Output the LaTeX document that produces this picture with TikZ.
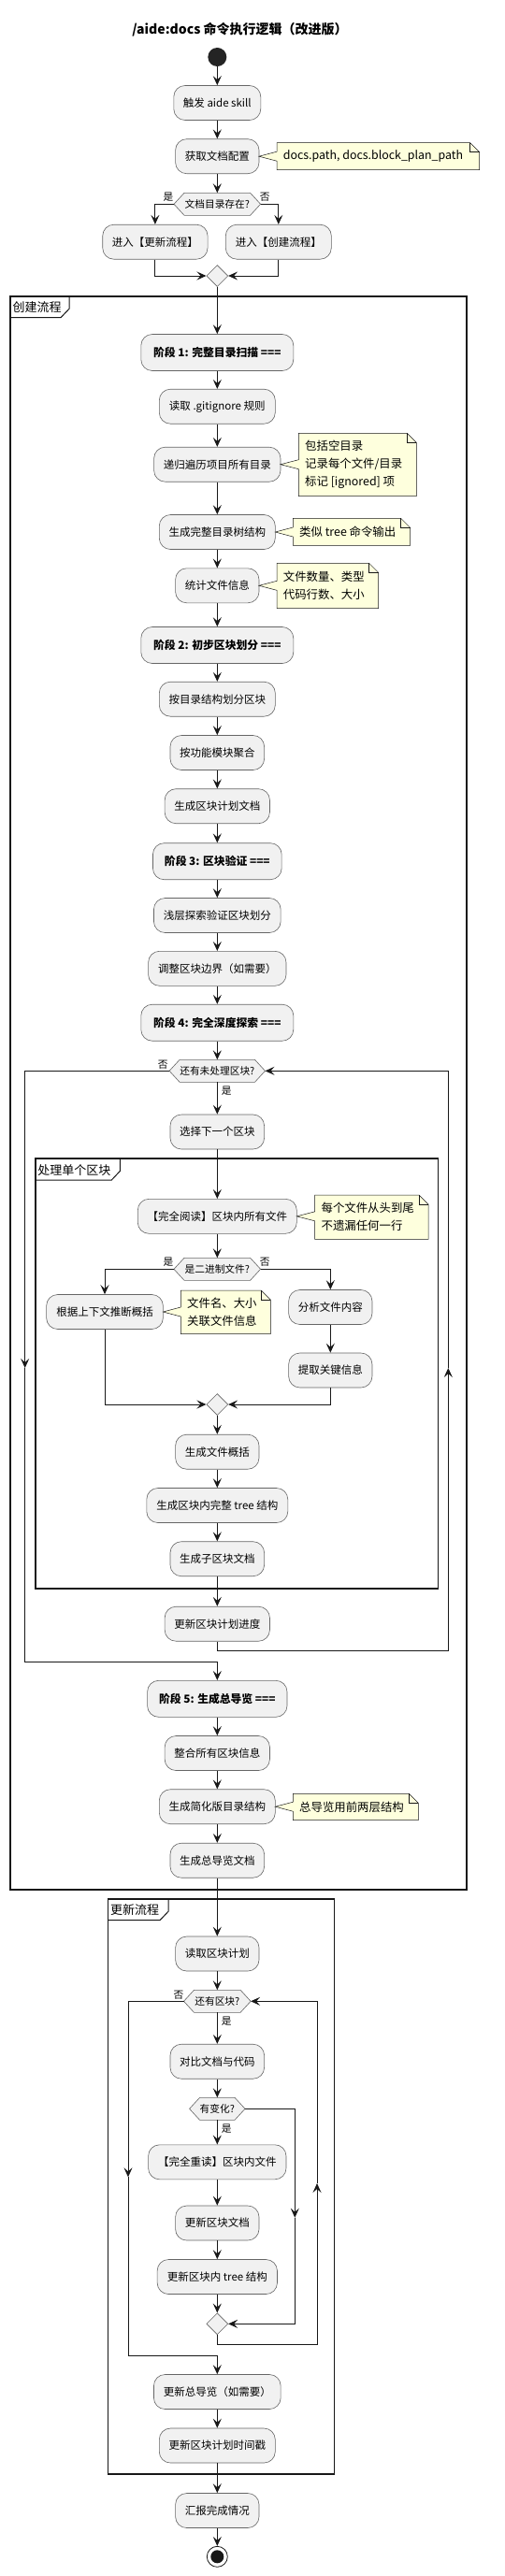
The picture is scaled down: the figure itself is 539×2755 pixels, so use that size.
\documentclass[tikz,border=0pt]{standalone}
\usepackage{fontspec}
\setmainfont{Noto Sans CJK SC}
\usetikzlibrary{arrows.meta,shapes.geometric,calc}
\definecolor{actfill}{HTML}{F1F1F1}
\definecolor{notefill}{HTML}{FEFFDD}
\definecolor{lc}{HTML}{181818}
\newcommand\colx{232.3}
\newcommand\hexd[5]{%
  \draw[hexs] (#2-#4,#3) -- (#2-#4+11,#3-12) -- (#2+#4-11,#3-12) -- (#2+#4,#3) -- (#2+#4-11,#3+12) -- (#2-#4+11,#3+12) -- cycle;
  \node[dtext] (#1) at (#2,#3) {#5};
  \coordinate (#1-w) at (#2-#4,#3);
  \coordinate (#1-e) at (#2+#4,#3);
  \coordinate (#1-n) at (#2,#3-12);
  \coordinate (#1-s) at (#2,#3+12);
}
\newcommand\mynote[8]{%
  \draw[notes] (#2,#3) -- (#4-10,#3) -- (#4,#3+10) -- (#4,#5) -- (#2,#5) -- (#2,#7+5) -- (#6,#7) -- (#2,#7-5) -- cycle;
  \draw[notes,fill=none] (#4-10,#3) -- (#4-10,#3+10) -- (#4,#3+10);
  \node[notetext] (#1) at (#2+6.7,{(#3+#5)/2}) {#8};
}
\newcommand\mygroup[7]{%
  \draw[grp] (#2,#3) rectangle (#4,#5);
  \draw[grptab] (#2,#3+23) -- (#6-9,#3+23) -- (#6,#3+13.5) -- (#6,#3);
  \node[grplabel] (#1) at (#2+2.5,#3+12.3) {#7};
}
\begin{document}
\begin{tikzpicture}[x=1pt,y=-1pt,
  act/.style={draw=black!60,line width=0.6pt,fill=actfill,rounded corners=12pt,minimum height=37pt,inner sep=0pt,font=\fontsize{11.5pt}{14pt}\selectfont},
  phase/.style={act,minimum height=39pt,font=\fontsize{11.8pt}{14pt}\selectfont\bfseries},
  arr/.style={draw=lc,line width=1pt,-{Stealth[length=10pt,width=9pt,inset=4pt]}},
  ln/.style={draw=lc,line width=1pt},
  hexs/.style={draw=black!60,line width=0.6pt,fill=actfill},
  dtext/.style={inner sep=0pt,font=\fontsize{10.7pt}{13pt}\selectfont},
  lbl/.style={inner sep=0pt,font=\fontsize{10.7pt}{13pt}\selectfont},
  merge/.style={diamond,draw=black!60,line width=0.6pt,fill=actfill,minimum width=23pt,minimum height=23pt,inner sep=0pt},
  notes/.style={draw=lc,line width=0.5pt,fill=notefill},
  notetext/.style={anchor=west,align=left,inner sep=0pt,font=\fontsize{12.4pt}{19pt}\selectfont},
  grp/.style={draw=lc,line width=1.6pt},
  grptab/.style={draw=lc,line width=1pt},
  grplabel/.style={anchor=west,inner sep=0pt,font=\fontsize{13pt}{15pt}\selectfont},
  startc/.style={circle,fill=lc!95,minimum size=20pt,inner sep=0pt},
  endc/.style={circle,draw=lc,line width=0.8pt,fill=white,minimum size=22pt,inner sep=0pt}
]
\useasboundingbox[fill=white] (0,0) rectangle (539,2755);

% groups
\mygroup{g1}{11}{316.7}{498.7}{2020.7}{74}{创建流程}
\mygroup{g2}{37.7}{1239}{468.3}{1699}{128.3}{处理单个区块}
\mygroup{g3}{115.3}{2030.7}{357.3}{2646}{180}{更新流程}

% title
\node[inner sep=0pt,font=\fontsize{14pt}{16pt}\selectfont\bfseries] (title) at (256.5,32) {/aide:docs 命令执行逻辑（改进版）};

% top part
\node[startc] (start) at (\colx,61) {};
\node[act,minimum width=93pt] (a1) at (\colx,110) {触发 aide skill};
\node[act,minimum width=89.4pt] (a2) at (\colx,167.2) {获取文档配置};
\mynote{n1}{296}{152.7}{512.7}{181.7}{276.9}{167.2}{docs.path, docs.block\_plan\_path}
\hexd{d1}{\colx}{218.3}{46.3}{文档目录存在?}
\node[lbl] (l1) at (180,210.7) {是};
\node[lbl] (l2) at (283.3,210.7) {否};
\node[act,minimum width=112.3pt] (a3) at (165.9,258.7) {进入【更新流程】};
\node[act,minimum width=113pt] (a4) at (297.8,258.7) {进入【创建流程】};
\node[merge] (m1) at (\colx,295) {};

% create flow
\node[phase,minimum width=163pt] (p1) at (\colx,377) {阶段 1: 完整目录扫描 ===};
\node[act,minimum width=124pt] (b1) at (\colx,434.7) {读取 .gitignore 规则};
\node[act,minimum width=135.3pt] (b2) at (\colx,496.7) {递归遍历项目所有目录};
\mynote{n2}{319.3}{463.3}{445.3}{530.7}{299.9}{496.7}{包括空目录\\记录每个文件/目录\\标记 [ignored] 项}
\node[act,minimum width=124pt] (b3) at (\colx,569) {生成完整目录树结构};
\mynote{n3}{313.3}{554.3}{438.7}{583.3}{294.3}{569}{类似 tree 命令输出}
\node[act,minimum width=89.4pt] (b4) at (\colx,626.3) {统计文件信息};
\mynote{n4}{296}{602.3}{404.7}{650.7}{276.9}{626.3}{文件数量、类型\\代码行数、大小}
\node[phase,minimum width=163pt] (p2) at (\colx,690) {阶段 2: 初步区块划分 ===};
\node[act,minimum width=124pt] (b5) at (\colx,747.7) {按目录结构划分区块};
\node[act,minimum width=100.6pt] (b6) at (\colx,805) {按功能模块聚合};
\node[act,minimum width=112.3pt] (b7) at (\colx,862.2) {生成区块计划文档};
\node[phase,minimum width=137.7pt] (p3) at (\colx,921.2) {阶段 3: 区块验证 ===};
\node[act,minimum width=135.7pt] (b8) at (\colx,979) {浅层探索验证区块划分};
\node[act,minimum width=147.4pt] (b9) at (\colx,1035.8) {调整区块边界（如需要）};
\node[phase,minimum width=163pt] (p4) at (\colx,1093.7) {阶段 4: 完全深度探索 ===};
\hexd{d2}{\colx}{1145.3}{51.2}{还有未处理区块?}
\node[lbl] (l3) at (174.3,1138.3) {否};
\node[lbl] (l4) at (242.3,1166.7) {是};
\node[act,minimum width=100.6pt] (b10) at (\colx,1210.5) {选择下一个区块};
\node[act,minimum width=170pt] (b11) at (\colx,1300.8) {【完全阅读】区块内所有文件};
\mynote{n5}{336.7}{1278}{458}{1325.3}{317.3}{1300.8}{每个文件从头到尾\\不遗漏任何一行}
\hexd{d3}{\colx}{1357.3}{46.3}{是二进制文件?}
\node[lbl] (l5) at (180,1349.3) {是};
\node[lbl] (l6) at (283.3,1349.3) {否};
\node[act,minimum width=124.7pt] (b12) at (112,1403) {根据上下文推断概括};
\mynote{n6}{193.3}{1380}{289.3}{1426.7}{174.3}{1403}{文件名、大小\\关联文件信息}
\node[act,minimum width=89.3pt] (b13) at (353.3,1398) {分析文件内容};
\node[act,minimum width=89.3pt] (b14) at (353.3,1465.5) {提取关键信息};
\node[merge] (m2) at (\colx,1502) {};
\node[act,minimum width=89.4pt] (b15) at (\colx,1552.7) {生成文件概括};
\node[act,minimum width=151pt] (b16) at (\colx,1610) {生成区块内完整 tree 结构};
\node[act,minimum width=100.6pt] (b17) at (\colx,1667.2) {生成子区块文档};
\node[act,minimum width=112.3pt] (b18) at (\colx,1736.7) {更新区块计划进度};
\node[phase,minimum width=149.4pt] (p5) at (\colx,1816.8) {阶段 5: 生成总导览 ===};
\node[act,minimum width=112.3pt] (b19) at (\colx,1875) {整合所有区块信息};
\node[act,minimum width=124pt] (b20) at (\colx,1932.2) {生成简化版目录结构};
\mynote{n7}{313.3}{1918.3}{447.3}{1946.7}{294.3}{1932.2}{总导览用前两层结构}
\node[act,minimum width=100.6pt] (b21) at (\colx,1989.7) {生成总导览文档};

% update flow
\node[act,minimum width=89.4pt] (c1) at (\colx,2089.5) {读取区块计划};
\hexd{d4}{\colx}{2140.3}{35.8}{还有区块?}
\node[lbl] (l7) at (191,2133.3) {否};
\node[lbl] (l8) at (242.3,2161.7) {是};
\node[act,minimum width=100.6pt] (c2) at (\colx,2204.7) {对比文档与代码};
\hexd{d5}{\colx}{2255.3}{29.7}{有变化?}
\node[lbl] (l9) at (242.3,2276.7) {是};
\node[act,minimum width=147.4pt] (c3) at (\colx,2312.3) {【完全重读】区块内文件};
\node[act,minimum width=89.4pt] (c4) at (\colx,2377.5) {更新区块文档};
\node[act,minimum width=128.3pt] (c5) at (\colx,2435) {更新区块内 tree 结构};
\node[merge] (m3) at (\colx,2485.3) {};
\node[act,minimum width=135.7pt] (c6) at (\colx,2558) {更新总导览（如需要）};
\node[act,minimum width=124pt] (c7) at (\colx,2615.5) {更新区块计划时间戳};
\node[act,minimum width=89.4pt] (c8) at (\colx,2685) {汇报完成情况};
\node[endc] (end) at (\colx,2734.3) {};
\fill[lc] (end.center) circle (7);

% helper coordinates
\coordinate (lb1) at (\colx,1765);
\coordinate (lb2) at (479.3,1765);
\coordinate (lb3) at (479.3,1463);
\coordinate (lb4) at (479.3,1145.3);
\coordinate (le1) at (26.7,1145.3);
\coordinate (le2) at (26.7,1463);
\coordinate (le3) at (26.7,1777.3);
\coordinate (le4) at (\colx,1777.3);
\coordinate (r1) at (315.3,2255.3);
\coordinate (r2) at (315.3,2371.7);
\coordinate (r3) at (315.3,2485.3);
\coordinate (ub1) at (\colx,2507.3);
\coordinate (ub2) at (339,2507.3);
\coordinate (ub3) at (339,2335);
\coordinate (ub4) at (339,2140.3);
\coordinate (ue1) at (137,2140.3);
\coordinate (ue2) at (137,2328.3);
\coordinate (ue3) at (137,2519.3);
\coordinate (ue4) at (\colx,2519.3);

% connectors
\draw[arr] (start) -- (a1);
\draw[arr] (a1) -- (a2);
\draw[arr] (a2) -- (d1-n);
\draw[arr] (d1-w) -| (a3.north);
\draw[arr] (d1-e) -| (a4.north);
\draw[arr] (a3.south) |- (m1.west);
\draw[arr] (a4.south) |- (m1.east);
\draw[arr] (m1) -- (p1);
\draw[arr] (p1) -- (b1);
\draw[arr] (b1) -- (b2);
\draw[arr] (b2) -- (b3);
\draw[arr] (b3) -- (b4);
\draw[arr] (b4) -- (p2);
\draw[arr] (p2) -- (b5);
\draw[arr] (b5) -- (b6);
\draw[arr] (b6) -- (b7);
\draw[arr] (b7) -- (p3);
\draw[arr] (p3) -- (b8);
\draw[arr] (b8) -- (b9);
\draw[arr] (b9) -- (p4);
\draw[arr] (p4) -- (d2-n);
\draw[arr] (d2-s) -- (b10);
\draw[arr] (b10) -- (b11);
\draw[arr] (b11) -- (d3-n);
\draw[arr] (d3-w) -| (b12.north);
\draw[arr] (d3-e) -| (b13.north);
\draw[arr] (b13) -- (b14);
\draw[arr] (b12.south) |- (m2.west);
\draw[arr] (b14.south) |- (m2.east);
\draw[arr] (m2) -- (b15);
\draw[arr] (b15) -- (b16);
\draw[arr] (b16) -- (b17);
\draw[arr] (b17) -- (b18);
\draw[arr] (b18.south) -- (lb1) -- (lb2) -- (lb3);
\draw[arr] (lb3) -- (lb4) -- (d2-e);
\draw[arr] (d2-w) -- (le1) -- (le2);
\draw[arr] (le2) -- (le3) -- (le4) -- (p5.north);
\draw[arr] (p5) -- (b19);
\draw[arr] (b19) -- (b20);
\draw[arr] (b20) -- (b21);
\draw[arr] (b21) -- (c1);
\draw[arr] (c1) -- (d4-n);
\draw[arr] (d4-s) -- (c2);
\draw[arr] (c2) -- (d5-n);
\draw[arr] (d5-s) -- (c3);
\draw[arr] (c3) -- (c4);
\draw[arr] (c4) -- (c5);
\draw[arr] (c5) -- (m3);
\draw[arr] (d5-e) -- (r1) -- (r2);
\draw[arr] (r2) -- (r3) -- (m3.east);
\draw[arr] (m3.south) -- (ub1) -- (ub2) -- (ub3);
\draw[arr] (ub3) -- (ub4) -- (d4-e);
\draw[arr] (d4-w) -- (ue1) -- (ue2);
\draw[arr] (ue2) -- (ue3) -- (ue4) -- (c6.north);
\draw[arr] (c6) -- (c7);
\draw[arr] (c7) -- (c8);
\draw[arr] (c8) -- (end);
\end{tikzpicture}
\end{document}
